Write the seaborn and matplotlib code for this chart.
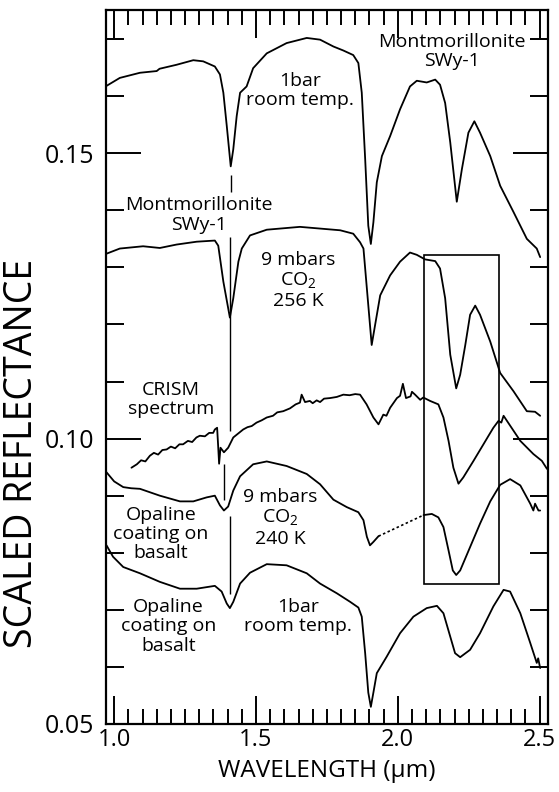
import numpy as np
import pandas as pd
import matplotlib
matplotlib.use('Agg')
import matplotlib.pyplot as plt
from matplotlib.patches import Rectangle
from matplotlib.ticker import MultipleLocator, FormatStrFormatter
import seaborn as sns

# spectra (wavelength in um, scaled reflectance)
mont_1bar_x = [0.973, 1.020, 1.091, 1.150, 1.160, 1.220, 1.279, 1.314, 1.355, 1.373, 1.385, 1.397,
               1.411, 1.420, 1.432, 1.444, 1.467, 1.490, 1.538, 1.608, 1.679, 1.726, 1.773, 1.808,
               1.843, 1.861, 1.873, 1.885, 1.896, 1.905, 1.914, 1.926, 1.944, 1.973, 2.008, 2.043,
               2.067, 2.102, 2.132, 2.149, 2.167, 2.185, 2.208, 2.226, 2.249, 2.270, 2.290, 2.326,
               2.361, 2.408, 2.455, 2.490, 2.502]
mont_1bar_y = [0.1618, 0.1632, 0.1641, 0.1644, 0.1648, 0.1655, 0.1663, 0.1661, 0.1652, 0.1638, 0.1606, 0.1548,
               0.1477, 0.1507, 0.1565, 0.1606, 0.1617, 0.1649, 0.1675, 0.1693, 0.1702, 0.1699, 0.1687, 0.1680,
               0.1672, 0.1658, 0.1606, 0.1490, 0.1373, 0.1341, 0.1379, 0.1449, 0.1495, 0.1530, 0.1577, 0.1617,
               0.1627, 0.1624, 0.1629, 0.1620, 0.1588, 0.1519, 0.1415, 0.1472, 0.1536, 0.1556, 0.1536, 0.1495,
               0.1443, 0.1397, 0.1350, 0.1333, 0.1318]

mont_9mb_x = [0.973, 1.020, 1.102, 1.161, 1.220, 1.291, 1.355, 1.367, 1.385, 1.408, 1.420, 1.438,
              1.450, 1.479, 1.538, 1.655, 1.726, 1.797, 1.843, 1.867, 1.879, 1.891, 1.908, 1.920,
              1.938, 1.973, 2.008, 2.043, 2.067, 2.096, 2.132, 2.149, 2.167, 2.185, 2.206, 2.220,
              2.238, 2.255, 2.273, 2.290, 2.326, 2.361, 2.408, 2.455, 2.484, 2.502]
mont_9mb_y = [0.1324, 0.1333, 0.1337, 0.1334, 0.1340, 0.1345, 0.1347, 0.1338, 0.1275, 0.1212, 0.1246, 0.1310,
              0.1333, 0.1356, 0.1366, 0.1371, 0.1368, 0.1365, 0.1359, 0.1344, 0.1333, 0.1263, 0.1164, 0.1199,
              0.1251, 0.1286, 0.1310, 0.1326, 0.1322, 0.1314, 0.1311, 0.1298, 0.1246, 0.1147, 0.1088, 0.1112,
              0.1164, 0.1217, 0.1233, 0.1217, 0.1170, 0.1115, 0.1083, 0.1048, 0.1047, 0.1040]

crism_x = [1.061, 1.080, 1.095, 1.110, 1.126, 1.140, 1.155, 1.170, 1.185, 1.200, 1.215, 1.230,
           1.243, 1.260, 1.275, 1.290, 1.302, 1.320, 1.335, 1.349, 1.355, 1.363, 1.367, 1.370,
           1.375, 1.387, 1.402, 1.420, 1.435, 1.455, 1.470, 1.485, 1.502, 1.520, 1.538, 1.560,
           1.575, 1.596, 1.620, 1.640, 1.655, 1.661, 1.673, 1.690, 1.700, 1.714, 1.726, 1.740,
           1.761, 1.785, 1.808, 1.830, 1.850, 1.867, 1.890, 1.914, 1.932, 1.949, 1.960, 1.973,
           1.997, 2.008, 2.018, 2.029, 2.045, 2.050, 2.061, 2.079, 2.090, 2.114, 2.143, 2.161,
           2.179, 2.196, 2.214, 2.231, 2.267, 2.302, 2.320, 2.337, 2.355, 2.365, 2.373, 2.385,
           2.432, 2.478, 2.508, 2.526]
crism_y = [0.0949, 0.0955, 0.0962, 0.0960, 0.0970, 0.0975, 0.0972, 0.0980, 0.0981, 0.0986, 0.0983, 0.0990,
           0.0990, 0.0996, 0.0994, 0.1002, 0.1005, 0.1004, 0.1010, 0.1010, 0.1016, 0.1019, 0.0984, 0.0956,
           0.0984, 0.0976, 0.0984, 0.1002, 0.1008, 0.1016, 0.1020, 0.1022, 0.1028, 0.1032, 0.1037, 0.1040,
           0.1046, 0.1048, 0.1053, 0.1060, 0.1063, 0.1077, 0.1064, 0.1066, 0.1062, 0.1067, 0.1064, 0.1070,
           0.1071, 0.1073, 0.1077, 0.1076, 0.1078, 0.1077, 0.1060, 0.1037, 0.1025, 0.1042, 0.1040, 0.1054,
           0.1071, 0.1075, 0.1096, 0.1071, 0.1074, 0.1082, 0.1077, 0.1068, 0.1072, 0.1066, 0.1060, 0.1037,
           0.0996, 0.0949, 0.0921, 0.0932, 0.0961, 0.0990, 0.1005, 0.1019, 0.1031, 0.1028, 0.1040, 0.1031,
           0.0996, 0.0973, 0.0961, 0.0947]

opal_9mb_x1 = [0.973, 1.000, 1.032, 1.060, 1.091, 1.161, 1.232, 1.279, 1.326, 1.355, 1.373, 1.387,
               1.402, 1.420, 1.444, 1.490, 1.538, 1.608, 1.679, 1.726, 1.773, 1.820, 1.861, 1.879,
               1.891, 1.902, 1.914, 1.932]
opal_9mb_y1 = [0.0941, 0.0925, 0.0915, 0.0913, 0.0912, 0.0900, 0.0890, 0.0890, 0.0897, 0.0900, 0.0883, 0.0874,
               0.0881, 0.0909, 0.0934, 0.0955, 0.0960, 0.0952, 0.0938, 0.0920, 0.0893, 0.0880, 0.0871, 0.0857,
               0.0828, 0.0813, 0.0819, 0.0829]
opal_9mb_x2 = [2.091, 2.120, 2.143, 2.161, 2.179, 2.194, 2.206, 2.220, 2.255, 2.290, 2.326, 2.361,
               2.396, 2.432, 2.467, 2.478, 2.484, 2.490, 2.496, 2.502]
opal_9mb_y2 = [0.0866, 0.0868, 0.0862, 0.0845, 0.0804, 0.0769, 0.0761, 0.0769, 0.0810, 0.0851, 0.0890, 0.0919,
               0.0929, 0.0918, 0.0886, 0.0874, 0.0886, 0.0880, 0.0874, 0.0874]

opal_1bar_x = [0.973, 0.996, 1.032, 1.091, 1.161, 1.232, 1.291, 1.355, 1.379, 1.397, 1.408, 1.420,
               1.444, 1.479, 1.538, 1.608, 1.679, 1.726, 1.785, 1.832, 1.861, 1.873, 1.885, 1.896,
               1.905, 1.914, 1.926, 1.961, 2.008, 2.055, 2.102, 2.138, 2.161, 2.185, 2.202, 2.220,
               2.255, 2.290, 2.337, 2.373, 2.396, 2.432, 2.467, 2.490, 2.495, 2.502]
opal_1bar_y = [0.0813, 0.0793, 0.0775, 0.0764, 0.0749, 0.0737, 0.0737, 0.0742, 0.0732, 0.0711, 0.0703, 0.0714,
               0.0746, 0.0765, 0.0780, 0.0778, 0.0764, 0.0746, 0.0729, 0.0714, 0.0704, 0.0688, 0.0624, 0.0555,
               0.0530, 0.0555, 0.0589, 0.0618, 0.0659, 0.0688, 0.0703, 0.0707, 0.0694, 0.0653, 0.0624, 0.0617,
               0.0630, 0.0659, 0.0706, 0.0735, 0.0732, 0.0694, 0.0642, 0.0607, 0.0615, 0.0598]

# 1.4 um band markers and the 2.2 um box
mark_x = [1.413, 1.410, 1.387, 1.408]
mark_top = [0.1462, 0.1354, 0.0955, 0.0864]
mark_bot = [0.1432, 0.1014, 0.0892, 0.0728]
box_x = [2.091, 2.357]
box_y = [0.0746, 0.1322]

sns.set_theme(style='ticks')
plt.rcParams['font.family'] = ['Open Sans', 'DejaVu Sans']
plt.rcParams['mathtext.fontset'] = 'custom'
plt.rcParams['mathtext.rm'] = 'Open Sans'
plt.rcParams['text.color'] = 'black'
plt.rcParams['axes.labelcolor'] = 'black'
plt.rcParams['xtick.color'] = 'black'
plt.rcParams['ytick.color'] = 'black'

fig = plt.figure(figsize=(5.59, 7.92), dpi=100)
ax = fig.add_axes([0.189, 0.0859, 0.791, 0.9015])

lw = 1.3
for xs, ys in [(mont_1bar_x, mont_1bar_y), (mont_9mb_x, mont_9mb_y), (crism_x, crism_y),
               (opal_9mb_x1, opal_9mb_y1), (opal_9mb_x2, opal_9mb_y2), (opal_1bar_x, opal_1bar_y)]:
    sns.lineplot(x=xs, y=ys, color='black', lw=lw, sort=False, estimator=None, ax=ax)

# dotted gap in the 240 K spectrum
sns.lineplot(x=[opal_9mb_x1[-1], opal_9mb_x2[0]], y=[opal_9mb_y1[-1], opal_9mb_y2[0]],
             color='black', lw=1.2, ls=(0, (1.5, 1.5)), sort=False, estimator=None, ax=ax)

ax.vlines(mark_x, mark_bot, mark_top, color='black', lw=1.0)
ax.add_patch(Rectangle((box_x[0], box_y[0]), box_x[1] - box_x[0], box_y[1] - box_y[0],
                       fill=False, ec='black', lw=1.2))

fs = 14
ls_ = 1.1
ax.text(2.19, 0.1678, 'Montmorillonite\nSWy-1', ha='center', va='center', fontsize=fs, linespacing=ls_)
ax.text(1.655, 0.1610, '1bar\nroom temp.', ha='center', va='center', fontsize=fs, linespacing=ls_)
ax.text(1.300, 0.1392, 'Montmorillonite\nSWy-1', ha='center', va='center', fontsize=fs, linespacing=ls_)
ax.text(1.650, 0.1277, '9 mbars\nCO$_\\mathregular{2}$\n256 K', ha='center', va='center', fontsize=fs, linespacing=ls_)
ax.text(1.200, 0.1068, 'CRISM\nspectrum', ha='center', va='center', fontsize=fs, linespacing=ls_)
ax.text(1.164, 0.0833, 'Opaline\ncoating on\nbasalt', ha='center', va='center', fontsize=fs, linespacing=ls_)
ax.text(1.585, 0.0861, '9 mbars\nCO$_\\mathregular{2}$\n240 K', ha='center', va='center', fontsize=fs, linespacing=ls_)
ax.text(1.191, 0.0671, 'Opaline\ncoating on\nbasalt', ha='center', va='center', fontsize=fs, linespacing=ls_)
ax.text(1.648, 0.0688, '1bar\nroom temp.', ha='center', va='center', fontsize=fs, linespacing=ls_)

ax.set_xlim(0.97, 2.529)
ax.set_ylim(0.05, 0.1751)
ax.xaxis.set_major_locator(MultipleLocator(0.5))
ax.xaxis.set_minor_locator(MultipleLocator(0.05))
ax.yaxis.set_major_locator(MultipleLocator(0.05))
ax.yaxis.set_minor_locator(MultipleLocator(0.01))
ax.xaxis.set_major_formatter(FormatStrFormatter('%.1f'))
ax.yaxis.set_major_formatter(FormatStrFormatter('%.2f'))
ax.tick_params(which='both', direction='in', top=True, right=True, width=1.4, color='black')
ax.tick_params(which='major', length=20, labelsize=18)
ax.tick_params(axis='x', which='major', labelsize=17, pad=3)
ax.tick_params(axis='y', which='major', length=25, pad=8)
ax.tick_params(which='minor', length=11)
ax.tick_params(axis='y', which='minor', length=13)
for s in ax.spines.values():
    s.set_linewidth(1.6)
    s.set_color('black')

ax.set_xlabel('WAVELENGTH (\u03bcm)', fontsize=17.5, va='top')
ax.xaxis.set_label_coords(0.5, -0.049)
ax.set_ylabel('SCALED REFLECTANCE', fontsize=27, va='center')
ax.yaxis.set_label_coords(-0.19, 0.379)

fig.savefig('out.png', dpi=100)
